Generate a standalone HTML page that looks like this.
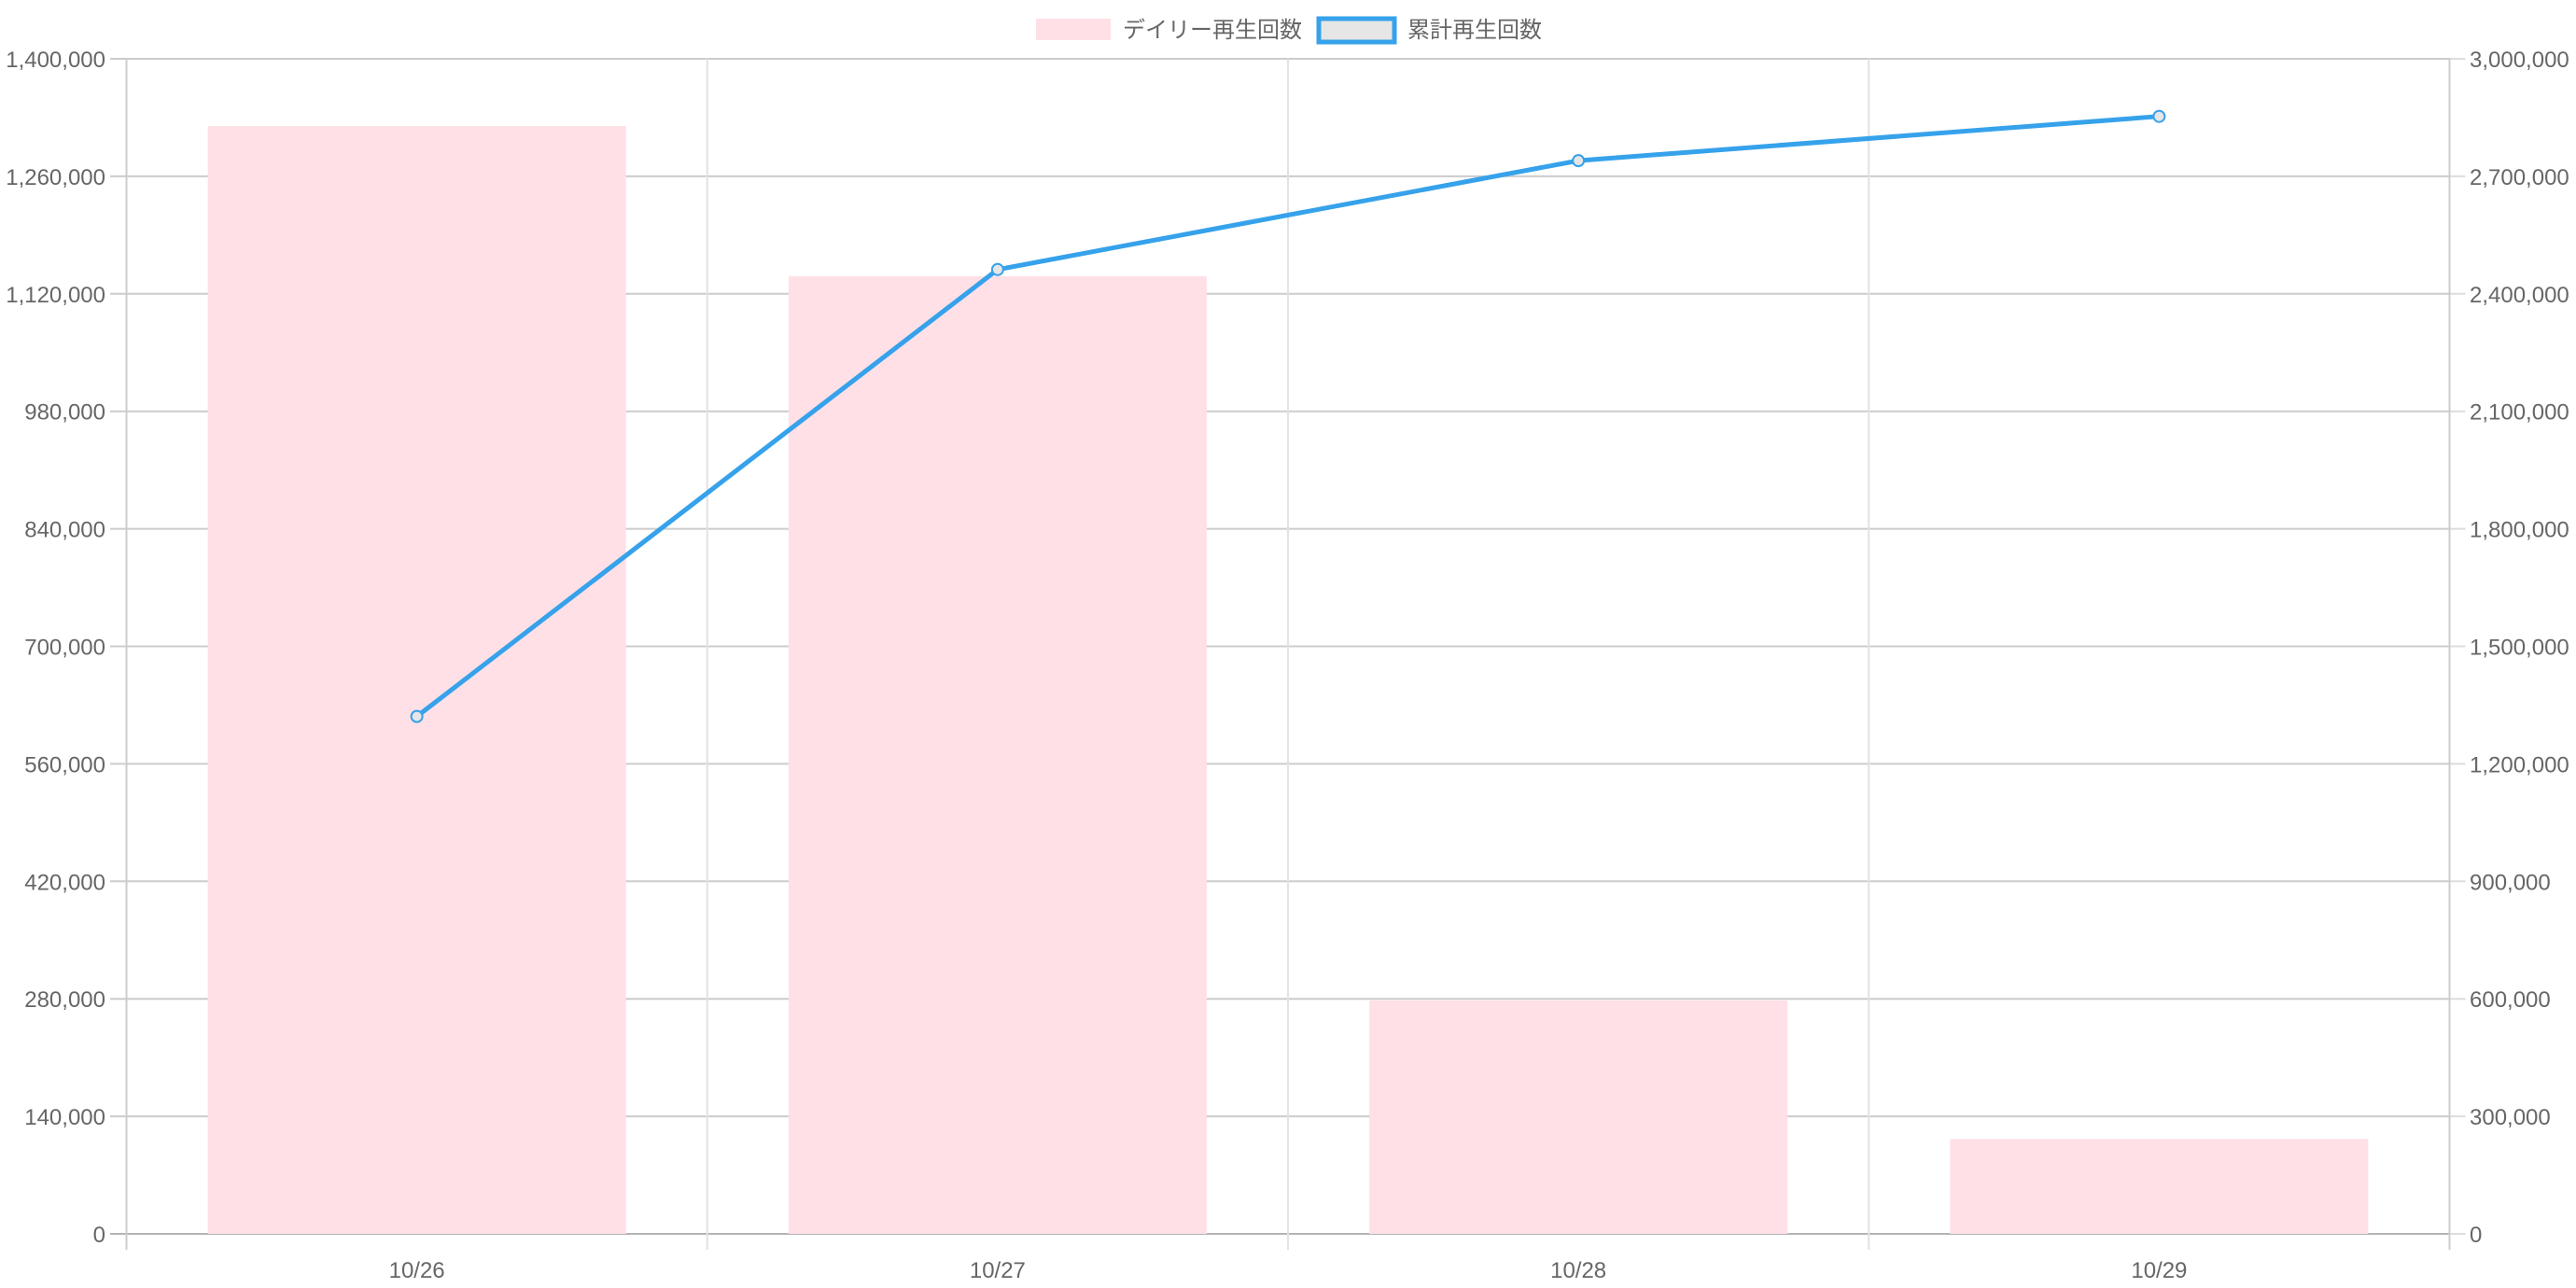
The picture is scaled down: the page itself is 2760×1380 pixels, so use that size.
<!DOCTYPE html>
<html><head><meta charset="utf-8"><style>
html,body{margin:0;padding:0;background:#fff;}
svg{display:block;}
text{font-family:"Liberation Sans","Noto Sans CJK JP",sans-serif;fill:#666;}
</style></head><body>
<svg id="chart" width="2760" height="1380" xmlns="http://www.w3.org/2000/svg">
<g id="legend">
 <g>
  <rect x="1110" y="20" width="80" height="23" fill="#ffe0e6"/>
  <text x="1203" y="40" font-size="24">デイリー再生回数</text>
 </g>
 <g>
  <rect x="1413" y="20" width="81" height="25" fill="#e6e6e6" stroke="#36a2eb" stroke-width="5"/>
  <text x="1508" y="40" font-size="24">累計再生回数</text>
 </g>
</g>
<g id="grid"></g>
<g id="bars"></g>
<g id="axes"></g>
<g id="line"></g>
</svg>
<script>
const categories = ["10/26","10/27","10/28","10/29"];
const dailyViews = [1320000, 1141000, 278000, 113000];
const cumulativeViews = [1321000, 2462000, 2740000, 2853000];
const leftTicks = [0,140000,280000,420000,560000,700000,840000,980000,1120000,1260000,1400000];
const rightTicks = [0,300000,600000,900000,1200000,1500000,1800000,2100000,2400000,2700000,3000000];

const NS="http://www.w3.org/2000/svg";
const L=135.5,R=2624.5,T=63,B=1322;
const leftMax=1400000,rightMax=3000000;
const yL=v=>B-(v/leftMax)*(B-T);
const yR=v=>B-(v/rightMax)*(B-T);
const band=(R-L)/categories.length;
const xC=i=>L+band*(i+0.5);
function mk(tag,attrs,parent){const e=document.createElementNS(NS,tag);for(const k in attrs)e.setAttribute(k,attrs[k]);parent.appendChild(e);return e;}
const fmt=v=>v.toLocaleString('en-US');
const grid=document.getElementById('grid'),bars=document.getElementById('bars'),axes=document.getElementById('axes'),line=document.getElementById('line');

leftTicks.forEach((v,i)=>{
 const y=yL(v);
 const g=mk('line',{x1:118,x2:R,y1:y,y2:y,stroke:i===0?'#b4b4b4':'#cccccc','stroke-width':2},grid);
 
 
 const t=mk('text',{x:113,y:y+9,'font-size':24,'text-anchor':'end'},axes);
 t.textContent=fmt(v);
 
 
});
rightTicks.forEach(v=>{
 const y=yR(v);
 const tk=mk('line',{x1:R,x2:R+17,y1:y,y2:y,stroke:'#dddddd','stroke-width':2},grid);
 
 
 const t=mk('text',{x:2646,y:y+9,'font-size':24,'text-anchor':'start'},axes);
 t.textContent=fmt(v);
 
 
});
for(let i=0;i<=categories.length;i++){
 const x=L+band*i;
 const v=mk('line',{x1:x,x2:x,y1:T,y2:B+17,stroke:(i===0||i===categories.length)?'#cccccc':'#e2e2e2','stroke-width':2},grid);
 
 
}
categories.forEach((c,i)=>{
 const t=mk('text',{x:xC(i),y:1369,'font-size':24,'text-anchor':'middle'},axes);
 t.textContent=c;
 
 
});
const bw=band*0.72;
dailyViews.forEach((v,i)=>{
 const r=mk('rect',{x:xC(i)-bw/2,y:yL(v),width:bw,height:B-yL(v),fill:'#ffe0e6'},bars);
 
 
});
const pts=cumulativeViews.map((v,i)=>xC(i)+','+yR(v)).join(' ');
const pl=mk('polyline',{points:pts,fill:'none',stroke:'#36a2eb','stroke-width':5,'stroke-linejoin':'round'},line);


cumulativeViews.forEach((v,i)=>{
 const c=mk('circle',{cx:xC(i),cy:yR(v),r:6,fill:'#e6e6e6',stroke:'#36a2eb','stroke-width':2},line);
 
 
});
</script>
</body></html>
